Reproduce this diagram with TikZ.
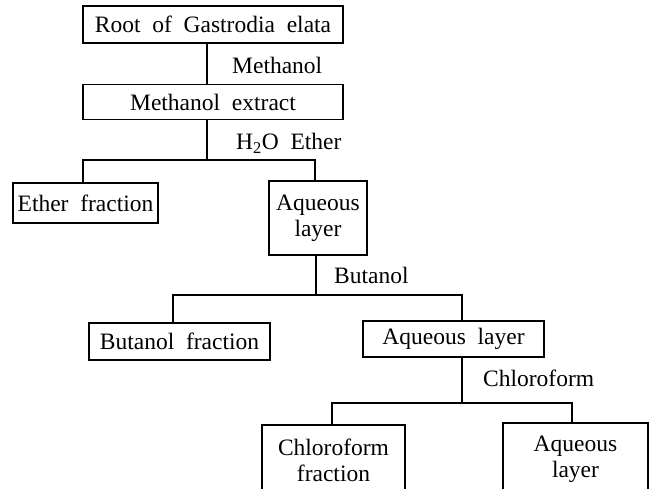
\documentclass[tikz,border=0pt]{standalone}
\usepackage{fontspec}
\setmainfont{Liberation Serif}
\usetikzlibrary{positioning}

\newcommand{\flowfont}{\fontsize{23.5}{26}\selectfont\spaceskip=0.5em plus 0.1em minus 0.1em}

\begin{document}
\begin{tikzpicture}[
  x=1pt, y=-1pt,
  box/.style={
    draw,
    line width=1.6pt,
    align=center,
    inner sep=0pt,
    font=\flowfont
  },
  solvent/.style={
    inner sep=0pt,
    anchor=west,
    font=\flowfont
  },
  line/.style={line width=1.6pt}
]
\useasboundingbox (0,0) rectangle (652,488);

% --- Extraction ---
\node[box,minimum width=260pt,minimum height=37pt] (root) at (213,24.5)
{Root of Gastrodia elata};

\node[box,minimum width=260pt,minimum height=35pt,below=40pt of root] (mext)
{Methanol extract};

% --- Ether partition ---
\node[box,minimum width=145pt,minimum height=40pt] (ether) at (85.5,203)
{Ether fraction};

\node[box,minimum width=98pt,minimum height=74pt] (aq1) at (318,218)
{Aqueous\\layer};

% --- Butanol partition ---
\node[box,minimum width=181pt,minimum height=37pt] (butfr) at (179.5,341.5)
{Butanol fraction};

\node[box,minimum width=181pt,minimum height=36pt] (aq2) at (453.5,339)
{Aqueous layer};

% --- Chloroform partition ---
\node[box,minimum width=143pt,minimum height=70pt] (chlfr) at (333.5,460)
{Chloroform\\fraction};

\node[box,minimum width=145pt,minimum height=72pt] (aq3) at (575.5,459)
{Aqueous\\layer};

% Solvent labels
\node[solvent] (methanol) at (232,65) {Methanol};
\node[solvent] (h2oether) at (236,143) {H\textsubscript{2}O Ether};
\node[solvent] (butanol) at (334,275) {Butanol};
\node[solvent] (chloroform) at (483,378) {Chloroform};

% Junctions
\coordinate (j1) at (207,160);
\coordinate (j2) at (316,295);
\coordinate (j3) at (462,403);

% Connectors
\draw[line] ([xshift=-6pt]root.south) -- ([xshift=-6pt]mext.north);
\draw[line] ([xshift=-6pt]mext.south) -- (j1);
\draw[line] ([xshift=-2.5pt]ether.north) |- (j1) -| ([xshift=-3pt]aq1.north);
\draw[line] ([xshift=-2pt]aq1.south) -- (j2);
\draw[line] ([xshift=-6.5pt]butfr.north) |- (j2) -| ([xshift=8.5pt]aq2.north);
\draw[line] ([xshift=8.5pt]aq2.south) -- (j3);
\draw[line] ([xshift=-1.5pt]chlfr.north) |- (j3) -| ([xshift=-3.5pt]aq3.north);

\end{tikzpicture}
\end{document}
